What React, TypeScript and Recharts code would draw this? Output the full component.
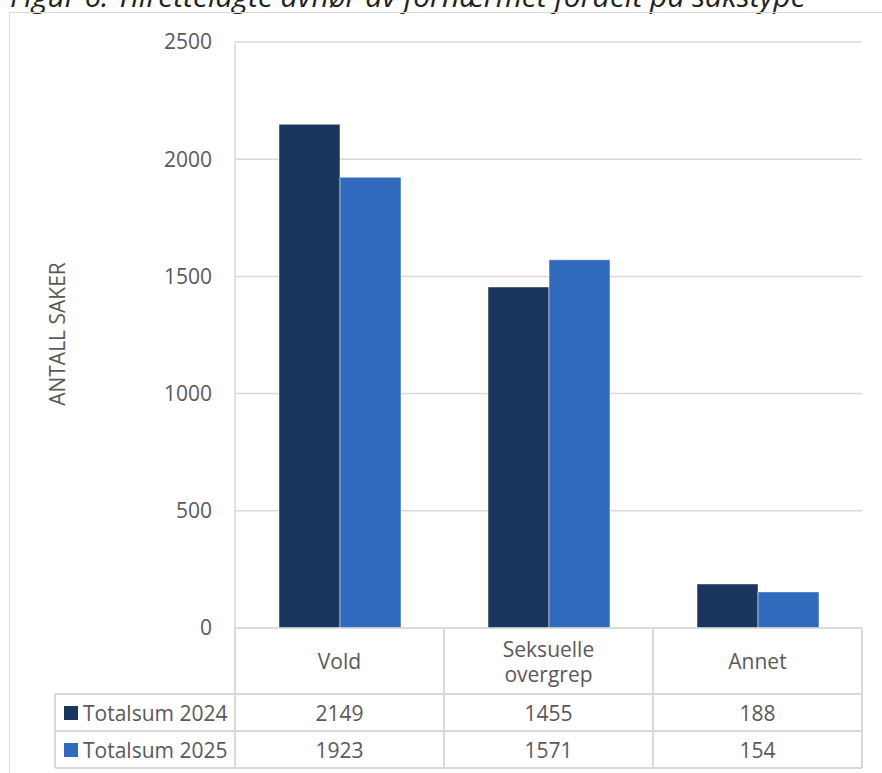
import React from "react";
import { BarChart, Bar, XAxis, YAxis, CartesianGrid } from "recharts";

const categories = ["Vold", "Seksuelle overgrep", "Annet"];
const seriesNames = ["Totalsum 2024", "Totalsum 2025"];
const values2024 = [2149, 1455, 188];
const values2025 = [1923, 1571, 154];
const yTicks = [0, 500, 1000, 1500, 2000, 2500];

const COLORS = ["#1b365e", "#306bbd"];
const TEXT = "#595959";
const LINE = "#d9d9d9";
const FONT = "'Open Sans', sans-serif";

const W = 882;
const H = 773;
const PLOT_LEFT = 235;
const PLOT_RIGHT = 862;
const PLOT_TOP = 42;
const PLOT_BOTTOM = 628;
const HEADER_H = 66;
const ROW_H = 37;
const TABLE_LEFT = 55;

const data = categories.map((c, i) => ({
  name: c,
  s2024: values2024[i],
  s2025: values2025[i],
}));
const seriesValues = [values2024, values2025];

const CategoryTick = ({ x, y, payload }: any) => {
  const label: string = payload.value;
  const lines = label.length > 10 ? label.split(" ") : [label];
  const mid = y + HEADER_H / 2;
  const lh = 25;
  const start = mid - ((lines.length - 1) * lh) / 2;
  return (
    <g>
      {lines.map((l, i) => (
        <text
          key={i}
          x={x}
          y={start + i * lh}
          textAnchor="middle"
          dominantBaseline="central"
          fill={TEXT}
          fontSize={21}
          fontFamily={FONT}
        >
          {l}
        </text>
      ))}
    </g>
  );
};

export default function App() {
  const colW = (PLOT_RIGHT - PLOT_LEFT) / categories.length;
  const tableBottom = PLOT_BOTTOM + HEADER_H + ROW_H * seriesNames.length;

  const hLine = (y: number, x1: number, x2: number, key: string) => (
    <div
      key={key}
      style={{
        position: "absolute",
        left: x1,
        top: y - 0.75,
        width: x2 - x1,
        height: 1.5,
        background: LINE,
      }}
    />
  );
  const vLine = (x: number, y1: number, y2: number, key: string) => (
    <div
      key={key}
      style={{
        position: "absolute",
        left: x - 0.75,
        top: y1,
        width: 1.5,
        height: y2 - y1,
        background: LINE,
      }}
    />
  );

  return (
    <div
      style={{
        position: "absolute",
        left: 0,
        top: 0,
        width: W,
        height: H,
        overflow: "hidden",
        background: "#fff",
        fontFamily: FONT,
      }}
    >
      {/* title, cut off at the top */}
      <svg
        width={W}
        height={14}
        style={{ position: "absolute", left: 0, top: 0 }}
      >
        <text
          x={10}
          y={7}
          fontSize={30}
          fontStyle="italic"
          fontFamily={FONT}
          fill="#222"
        >
          Figur 6: Tilrettelagte avhør av fornærmet fordelt på sakstype
        </text>
      </svg>

      {/* chart frame */}
      <div
        style={{
          position: "absolute",
          left: 9,
          top: 12,
          width: 900,
          height: 800,
          border: `1.5px solid ${LINE}`,
        }}
      />

      <div style={{ position: "absolute", left: 0, top: 0 }}>
        <BarChart
          width={W}
          height={H}
          data={data}
          barGap={0}
          barCategoryGap={44}
          margin={{
            top: PLOT_TOP,
            right: W - PLOT_RIGHT,
            bottom: H - PLOT_BOTTOM - HEADER_H,
            left: PLOT_LEFT - 60,
          }}
        >
          <CartesianGrid vertical={false} stroke={LINE} strokeWidth={1.5} />
          <XAxis
            dataKey="name"
            height={HEADER_H}
            tickLine={false}
            tickSize={0}
            tickMargin={0}
            axisLine={{ stroke: LINE, strokeWidth: 1.5 }}
            tick={<CategoryTick />}
            interval={0}
          />
          <YAxis
            width={60}
            domain={[0, 2500]}
            ticks={yTicks}
            tickLine={false}
            tickSize={0}
            tickMargin={23}
            axisLine={{ stroke: LINE, strokeWidth: 1.5 }}
            tick={{ fill: TEXT, fontSize: 21, fontFamily: FONT }}
          />
          <Bar
            dataKey="s2024"
            fill={COLORS[0]}
            stroke="#ffffff"
            strokeWidth={0.5}
            isAnimationActive={false}
          />
          <Bar
            dataKey="s2025"
            fill={COLORS[1]}
            stroke="#ffffff"
            strokeWidth={0.5}
            isAnimationActive={false}
          />
        </BarChart>
      </div>

      {/* y axis title */}
      <div
        style={{
          position: "absolute",
          left: 57,
          top: 334,
          transform: "translate(-50%, -50%) rotate(-90deg)",
          fontSize: 21,
          color: TEXT,
          whiteSpace: "nowrap",
        }}
      >
        ANTALL SAKER
      </div>

      {/* data table lines */}
      {categories.map((_, i) =>
        vLine(PLOT_LEFT + colW * i, PLOT_BOTTOM, tableBottom, `v${i}`)
      )}
      {vLine(PLOT_RIGHT, PLOT_BOTTOM, tableBottom, "vr")}
      {vLine(TABLE_LEFT, PLOT_BOTTOM + HEADER_H, tableBottom, "vl")}
      {seriesNames.map((_, r) =>
        hLine(PLOT_BOTTOM + HEADER_H + ROW_H * r, TABLE_LEFT, PLOT_RIGHT, `h${r}`)
      )}
      {hLine(tableBottom, TABLE_LEFT, PLOT_RIGHT, "hb")}

      {/* data table rows */}
      {seriesNames.map((name, r) => {
        const top = PLOT_BOTTOM + HEADER_H + ROW_H * r;
        return (
          <React.Fragment key={name}>
            <div
              style={{
                position: "absolute",
                left: 64,
                top,
                height: ROW_H,
                display: "flex",
                alignItems: "center",
                color: TEXT,
                fontSize: 21,
                whiteSpace: "nowrap",
              }}
            >
              <span
                style={{
                  display: "inline-block",
                  width: 14,
                  height: 14,
                  background: COLORS[r],
                  marginRight: 5,
                }}
              />
              {name}
            </div>
            {seriesValues[r].map((v, i) => (
              <div
                key={i}
                style={{
                  position: "absolute",
                  left: PLOT_LEFT + colW * i,
                  top,
                  width: colW,
                  height: ROW_H,
                  display: "flex",
                  alignItems: "center",
                  justifyContent: "center",
                  color: TEXT,
                  fontSize: 21,
                }}
              >
                {v}
              </div>
            ))}
          </React.Fragment>
        );
      })}
    </div>
  );
}
